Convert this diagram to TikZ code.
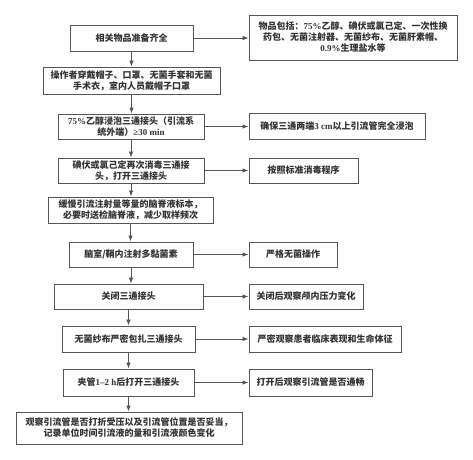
\documentclass[tikz,border=0pt]{standalone}
\usepackage{fontspec}
\setmainfont{Noto Sans CJK SC}
\newfontfamily\num{Liberation Serif}
\usetikzlibrary{arrows.meta}
\definecolor{txt}{HTML}{333333}
\definecolor{edge}{HTML}{555555}
\tikzset{
  box/.style={draw=edge, line width=0.9pt, fill=white, text=txt, align=center,
    inner sep=0pt, font=\fontsize{9}{11}\selectfont\bfseries},
  conn/.style={draw=edge, line width=0.8pt, -{Latex[length=6pt,width=4.5pt]}}
}
\begin{document}
\begin{tikzpicture}[x=1pt,y=-1pt]
\useasboundingbox (0,0) rectangle (473,459);
% left column
\node[box, minimum width=123pt, minimum height=26pt] (b1) at (131.5,38) {相关物品准备齐全};
\node[box, minimum width=177pt, minimum height=27pt] (b2) at (131.5,80.5) {操作者穿戴帽子、口罩、无菌手套和无菌\\手术衣，室内人员戴帽子口罩};
\node[box, minimum width=146pt, minimum height=25pt] (b3) at (131,126.5) {{\num 75\%}乙醇浸泡三通接头（引流系\\统外端）{\num ≥30 min}};
\node[box, minimum width=146pt, minimum height=25pt] (b4) at (131,170.5) {碘伏或氯己定再次消毒三通接\\头，打开三通接头};
\node[box, minimum width=165pt, minimum height=26pt] (b5) at (130.5,210) {缓慢引流注射量等量的脑脊液标本，\\必要时送检脑脊液，减少取样频次};
\node[box, minimum width=124pt, minimum height=25pt] (b6) at (131,254.5) {脑室/鞘内注射多黏菌素};
\node[box, minimum width=149pt, minimum height=25pt] (b7) at (128.5,296.5) {关闭三通接头};
\node[box, minimum width=133pt, minimum height=26pt] (b8) at (128.5,339) {无菌纱布严密包扎三通接头};
\node[box, minimum width=131pt, minimum height=27pt] (b9) at (128.5,382.5) {夹管{\num 1–2 h}后打开三通接头};
\node[box, minimum width=226pt, minimum height=32pt] (b10) at (129,428) {观察引流管是否打折受压以及引流管位置是否妥当，\\记录单位时间引流液的量和引流液颜色变化};
% right column
\node[box, minimum width=208pt, minimum height=45pt] (r1) at (353,37.5) {物品包括：{\num 75\%}乙醇、碘伏或氯己定、一次性换\\药包、无菌注射器、无菌纱布、无菌肝素帽、\\{\num 0.9\%}生理盐水等};
\node[box, minimum width=176pt, minimum height=26pt] (r3) at (337,126.5) {确保三通两端{\num 3 cm}以上引流管完全浸泡};
\node[box, minimum width=109pt, minimum height=25pt] (r4) at (303.5,170.5) {按照标准消毒程序};
\node[box, minimum width=88pt, minimum height=25pt] (r6) at (293,254.5) {严格无菌操作};
\node[box, minimum width=114pt, minimum height=25pt] (r7) at (306,296.5) {关闭后观察颅内压力变化};
\node[box, minimum width=152pt, minimum height=26pt] (r8) at (325,339) {严密观察患者临床表现和生命体征};
\node[box, minimum width=123pt, minimum height=27pt] (r9) at (310.5,382.5) {打开后观察引流管是否通畅};
% vertical connectors
\foreach \a/\b in {b1/b2,b2/b3,b3/b4,b4/b5,b5/b6,b6/b7,b7/b8,b8/b9,b9/b10}
  \draw[conn] (\a.south) -- (\a.south |- \b.north);
% horizontal connectors
\foreach \a/\b in {b1/r1,b3/r3,b4/r4,b6/r6,b7/r7,b8/r8,b9/r9}
  \draw[conn] (\a.east) -- (\a.east -| \b.west);
\end{tikzpicture}
\end{document}
